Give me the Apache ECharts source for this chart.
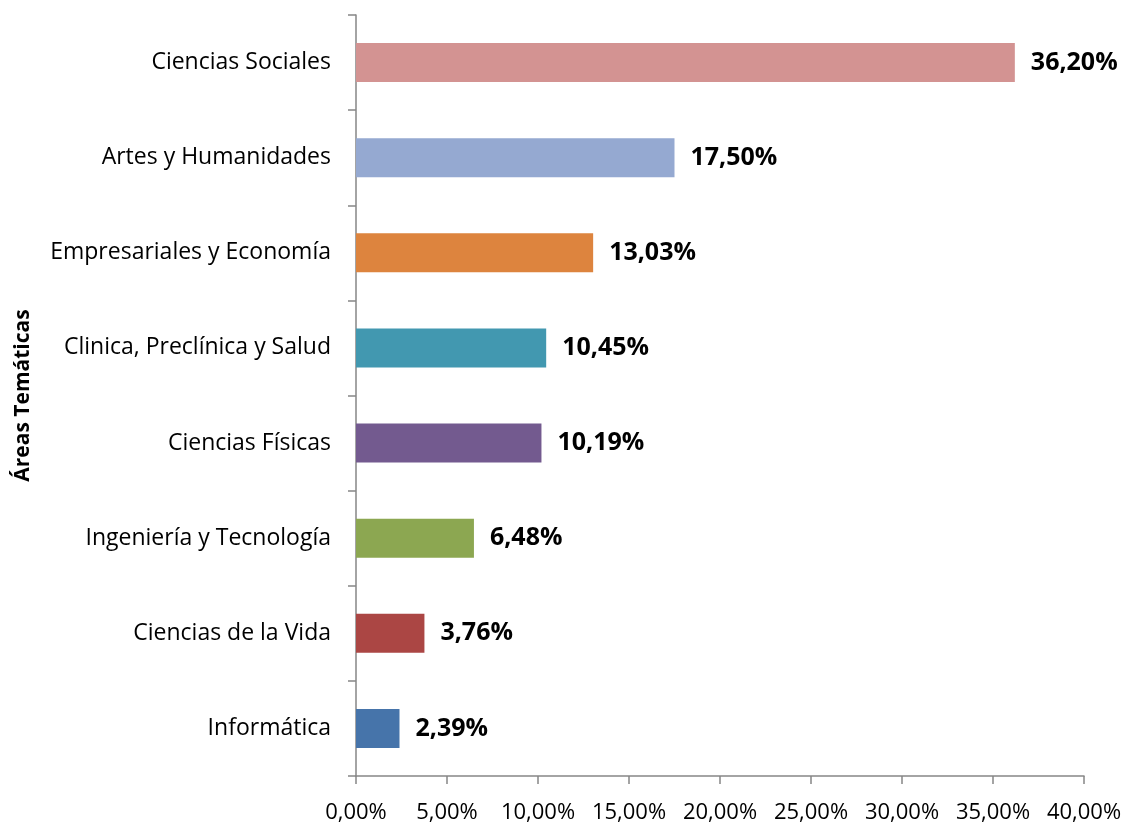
<!DOCTYPE html>
<html>
<head>
<meta charset="utf-8">
<script src="https://cdn.jsdelivr.net/npm/echarts@6/dist/echarts.min.js"></script>
<style>
  html, body { margin: 0; padding: 0; background: #fff; }
  #c { width: 1126px; height: 822px; }
</style>
</head>
<body>
<div id="c"></div>
<script>
  const areas = ["Informática", "Ciencias de la Vida", "Ingeniería y Tecnología", "Ciencias Físicas",
    "Clinica, Preclínica y Salud", "Empresariales y Economía", "Artes y Humanidades", "Ciencias Sociales"];
  const pct = [2.39, 3.76, 6.48, 10.19, 10.45, 13.03, 17.50, 36.20];
  const colors = ["#4674AA", "#AB4644", "#8CA751", "#735A8F", "#4298B0", "#DD843E", "#95A9D1", "#D39392"];

  const fmt = v => v.toFixed(2).replace(".", ",") + "%";
  const FONT = "Open Sans";
  const chart = echarts.init(document.getElementById("c"));
  chart.setOption({
    animation: false,
    grid: { left: 356, right: 42, top: 15, bottom: 46, containLabel: false, outerBoundsMode: "none" },
    xAxis: {
      type: "value", min: 0, max: 40, interval: 5,
      splitLine: { show: false },
      axisLine: { show: true, lineStyle: { color: "#868686", width: 1.5 } },
      axisTick: { show: true, length: 8, lineStyle: { color: "#868686", width: 1.5 } },
      axisLabel: { formatter: fmt, color: "#000", fontSize: 22, fontFamily: FONT, margin: 26 }
    },
    yAxis: {
      type: "category", data: areas,
      name: "Áreas Temáticas", nameLocation: "middle", nameGap: 322, nameRotate: 90,
      nameTextStyle: { color: "#000", fontSize: 21, fontWeight: "bold", fontFamily: FONT },
      axisLine: { show: true, lineStyle: { color: "#868686", width: 1.5 } },
      axisTick: { show: true, length: 8, lineStyle: { color: "#868686", width: 1.5 } },
      axisLabel: { color: "#000", fontSize: 23, fontFamily: FONT, margin: 25 }
    },
    series: [{
      type: "bar", barWidth: 39,
      data: pct.map((v, i) => ({ value: v, itemStyle: { color: colors[i] } })),
      label: { show: true, position: "right", distance: 16, formatter: p => fmt(p.value),
        color: "#000", fontSize: 25, fontWeight: "bold", fontFamily: FONT }
    }]
  });
</script>
</body>
</html>
